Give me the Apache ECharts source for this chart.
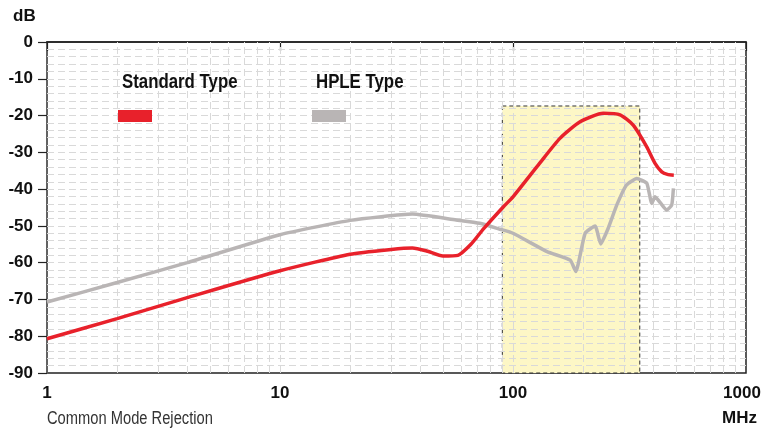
<!DOCTYPE html>
<html><head><meta charset="utf-8">
<script src="https://cdn.jsdelivr.net/npm/echarts@6/dist/echarts.min.js"></script>
<style>html,body{margin:0;padding:0;background:#fff}#c{width:762px;height:432px}</style>
</head><body><div id="c"></div>
<script>
// ---- data ----
const xTickLabels = [1, 10, 100, 1000];
const yTickLabels = [0, -10, -20, -30, -40, -50, -60, -70, -80, -90];
const standardType = [[1,-80.7],[2,-75.2],[4,-69.5],[10,-62.2],[20,-57.7],[30,-56.4],[37,-56.0],[43,-56.9],[50,-58.2],[58,-58.0],[66,-55.0],[75,-50.7],[91,-44.8],[100,-42.1],[130,-33.0],[159,-26.2],[194,-21.7],[244,-19.4],[288,-19.8],[328,-22.6],[375,-28.5],[407,-33.0],[435,-35.3],[460,-36.0],[490,-36.2]];
const hpleType = [[1,-70.7],[2,-65.4],[4,-60.0],[10,-52.4],[20,-48.5],[37,-46.8],[57,-48.4],[72,-49.3],[88,-50.9],[100,-52.0],[140,-57.0],[176,-59.3],[186,-62.4],[204,-52.0],[225,-50.0],[238,-54.9],[256,-50.7],[279,-44.3],[307,-38.9],[340,-37.1],[375,-38.4],[394,-43.9],[407,-42.1],[457,-45.7],[480,-44.3],[488,-39.8]];
const bandX = [90, 350];
const bandY = [-90, -17.4];
const gridX = [2,3,4,5,6,7,8,9,10,20,30,40,50,60,70,80,90,100,200,300,400,500,600,700,800,900];
const gridY = [-88,-86,-84,-82,-80,-78,-76,-74,-72,-70,-68,-66,-64,-62,-60,-58,-56,-54,-52,-50,-48,-46,-44,-42,-40,-38,-36,-34,-32,-30,-28,-26,-24,-22,-20,-18,-16,-14,-12,-10,-8,-6,-4,-2];

const SANS = "'Liberation Sans', Arial, sans-serif";

const chart = echarts.init(document.getElementById('c'), null, {renderer: 'canvas'});
const gridLineStyle = {color: '#d9d9d9', width: 1, type: [7, 4]};
chart.setOption({
  animation: false,
  grid: {left: 47, right: 16, top: 42, bottom: 59, outerBoundsMode: 'none', containLabel: false, show: true, borderColor: '#222', borderWidth: 1.5, backgroundColor: 'transparent'},
  xAxis: {
    type: 'log', logBase: 10, min: 1, max: 1000,
    axisLine: {show: true, lineStyle: {color: '#222', width: 1.5}},
    axisTick: {show: true, length: 9, lineStyle: {color: '#222', width: 1.2}},
    minorTick: {show: false},
    splitLine: {show: false},
    axisLabel: {
      margin: 12, color: '#111', fontFamily: SANS, fontWeight: 'bold', fontSize: 17,
      formatter: v => {
        const r = Math.round(v);
        if (xTickLabels.indexOf(r) < 0) return '';
        return r === 1000 ? '{e|' + r + '}' : String(r);
      },
      rich: {e: {fontFamily: SANS, fontWeight: 'bold', fontSize: 17, color: '#111', padding: [0, 8, 0, 0]}}
    }
  },
  yAxis: {
    type: 'value', min: -90, max: 0, interval: 10,
    axisLine: {show: true, lineStyle: {color: '#666', width: 1.5}},
    axisTick: {show: true, length: 9, lineStyle: {color: '#222', width: 1.2}},
    splitLine: {show: false},
    axisLabel: {
      margin: 14, color: '#111', fontFamily: SANS, fontWeight: 'bold', fontSize: 17,
      formatter: v => (yTickLabels.indexOf(v) >= 0 ? String(v) : '')
    }
  },
  series: [
    {
      name: 'band', type: 'line', data: [], z: 1, silent: true,
      markArea: {
        silent: true, z: 1,
        itemStyle: {color: '#fdf7c6', borderColor: '#333', borderWidth: 1, borderType: [4, 3]},
        data: [[{coord: [bandX[0], bandY[1]]}, {coord: [bandX[1], bandY[0]]}]]
      }
    },
    {
      name: 'grid', type: 'line', data: [], z: 2, silent: true,
      markLine: {
        silent: true, z: 2, symbol: 'none', label: {show: false},
        lineStyle: gridLineStyle, animation: false,
        data: gridX.map(v => ({xAxis: v})).concat(gridY.map(v => ({yAxis: v})))
      }
    },
    {
      name: 'HPLE Type', type: 'line', data: hpleType, z: 6, smooth: 0.15,
      symbol: 'none', lineStyle: {color: '#b9b5b5', width: 3.5}
    },
    {
      name: 'Standard Type', type: 'line', data: standardType, z: 7, smooth: 0.2,
      symbol: 'none', lineStyle: {color: '#e8212b', width: 3.5}
    }
  ],
  graphic: [
    {type: 'text', z: 20, left: 13, top: 8, style: {text: 'dB', font: "bold 17px " + SANS, fill: '#111'}},
    {type: 'text', z: 20, right: 5, top: 410, style: {text: 'MHz', font: "bold 17px " + SANS, fill: '#111'}},
    {type: 'text', z: 20, x: 47, y: 410, scaleX: 0.84, style: {text: 'Common Mode Rejection', font: "17.5px " + SANS, fill: '#333'}},
    {type: 'text', z: 20, x: 122, y: 72, scaleX: 0.82, style: {text: 'Standard Type', font: "bold 20.5px " + SANS, fill: '#111'}},
    {type: 'rect', z: 20, shape: {x: 118, y: 110, width: 34, height: 12}, style: {fill: '#e8212b'}},
    {type: 'text', z: 20, x: 316, y: 72, scaleX: 0.82, style: {text: 'HPLE Type', font: "bold 20.5px " + SANS, fill: '#111'}},
    {type: 'rect', z: 20, shape: {x: 312, y: 110, width: 34, height: 12}, style: {fill: '#b9b5b5'}}
  ]
});
</script>
</body></html>
